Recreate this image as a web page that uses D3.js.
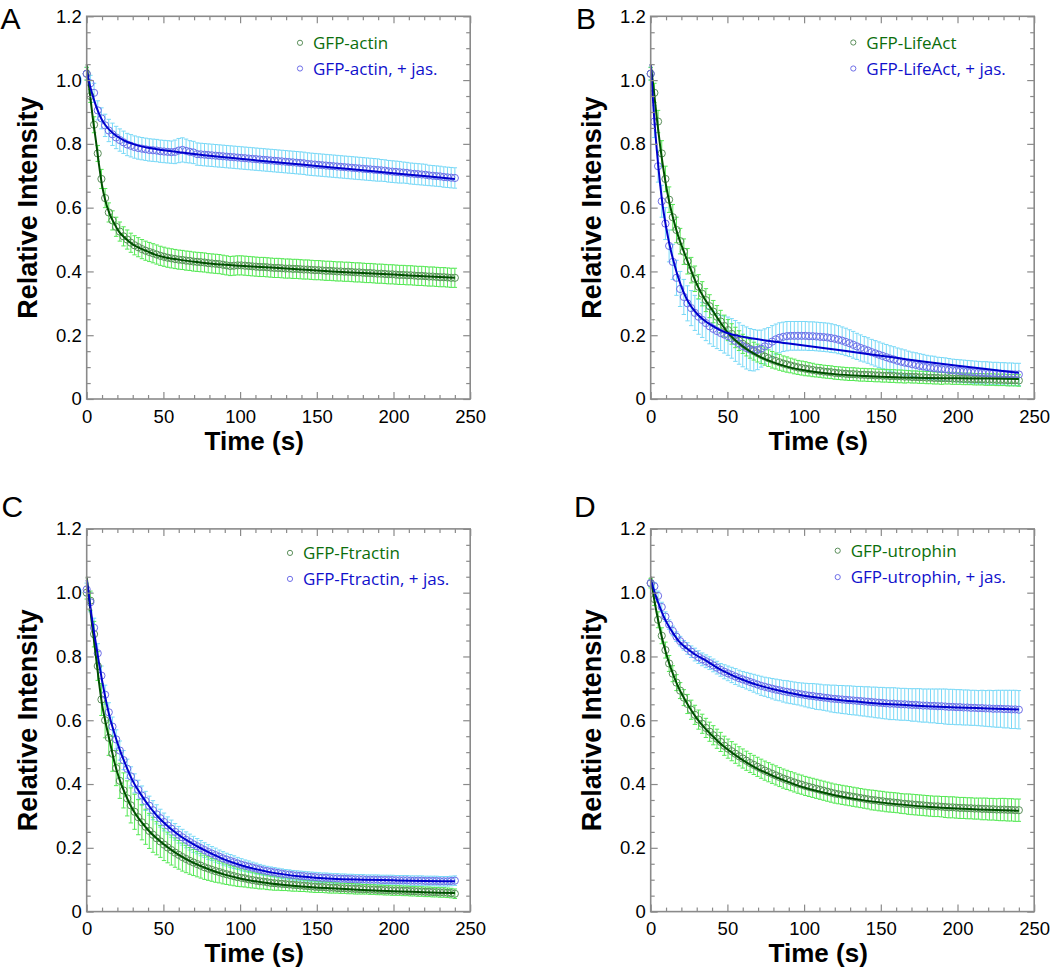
<!DOCTYPE html>
<html><head><meta charset="utf-8">
<script src="https://cdn.jsdelivr.net/npm/d3@7"></script>
<style>body{margin:0;background:#fff}svg{display:block}</style>
</head><body>
<svg id="c" width="1050" height="968"></svg>
<script>
// sample times (s) of the measured points
const times = d3.range(101).map(i => +(i * 2.4).toFixed(1));
// sample times of the fitted curves
const fitTimes = [0,2,4,6,8,10,12,15,18,21,25,30,35,40,45,50,60,70,80,90,100,120,140,160,180,200,220,240];
const xTickValues = [0,50,100,150,200,250];
const yTickValues = [0,0.2,0.4,0.6,0.8,1.0,1.2];
const yTickLabels = ["0","0.2","0.4","0.6","0.8","1.0","1.2"];

// ---- Panel A: GFP-actin
const actinCtrl = [1.02,0.95,0.86,0.77,0.69,0.63,0.585,0.56,0.54,0.525,
0.51,0.5,0.49,0.482,0.476,0.47,0.465,0.461,0.457,0.453,
0.449,0.446,0.443,0.441,0.439,0.437,0.436,0.434,0.433,0.431,
0.43,0.429,0.428,0.426,0.425,0.424,0.423,0.421,0.419,0.417,
0.418,0.419,0.419,0.418,0.417,0.416,0.415,0.414,0.414,0.413,
0.412,0.411,0.411,0.41,0.409,0.409,0.408,0.408,0.407,0.406,
0.406,0.405,0.404,0.404,0.403,0.402,0.402,0.401,0.4,0.4,
0.399,0.399,0.398,0.397,0.397,0.396,0.395,0.395,0.394,0.393,
0.393,0.392,0.391,0.391,0.39,0.389,0.389,0.388,0.388,0.387,
0.386,0.386,0.385,0.384,0.384,0.383,0.382,0.382,0.381,0.38,
0.38];
const actinCtrlErr = [0.02,0.02,0.025,0.025,0.03,0.03,0.03,0.03,0.03,0.03,
0.03,0.03,0.03,0.03,0.03,0.03,0.03,0.03,0.03,0.03,
0.03,0.03,0.03,0.03,0.03,0.03,0.03,0.03,0.03,0.03,
0.03,0.03,0.03,0.03,0.03,0.03,0.03,0.03,0.03,0.03,
0.03,0.03,0.03,0.03,0.03,0.03,0.03,0.03,0.03,0.03,
0.03,0.03,0.03,0.03,0.03,0.03,0.03,0.03,0.03,0.03,
0.03,0.03,0.03,0.03,0.03,0.03,0.03,0.03,0.03,0.03,
0.03,0.03,0.03,0.03,0.03,0.03,0.03,0.03,0.03,0.03,
0.03,0.03,0.03,0.03,0.03,0.03,0.03,0.03,0.03,0.03,
0.03,0.03,0.03,0.03,0.03,0.03,0.03,0.03,0.03,0.03,
0.03];
const actinJas = [1.02,0.99,0.96,0.905,0.88,0.858,0.842,0.83,0.82,0.812,
0.805,0.798,0.794,0.79,0.787,0.785,0.783,0.781,0.78,0.779,
0.777,0.776,0.775,0.774,0.775,0.779,0.781,0.778,0.775,0.773,
0.768,0.767,0.766,0.765,0.764,0.763,0.762,0.761,0.76,0.759,
0.758,0.757,0.756,0.755,0.754,0.753,0.752,0.751,0.75,0.749,
0.748,0.747,0.746,0.745,0.744,0.743,0.742,0.741,0.74,0.739,
0.737,0.736,0.735,0.734,0.733,0.732,0.731,0.73,0.729,0.728,
0.727,0.726,0.725,0.724,0.723,0.722,0.721,0.72,0.719,0.718,
0.717,0.716,0.714,0.713,0.712,0.711,0.71,0.709,0.707,0.706,
0.705,0.704,0.703,0.701,0.7,0.699,0.698,0.696,0.695,0.694,
0.693];
const actinJasErr = [0.02,0.025,0.03,0.03,0.033,0.035,0.035,0.035,0.035,0.035,
0.035,0.035,0.035,0.035,0.035,0.035,0.035,0.035,0.035,0.035,
0.035,0.035,0.035,0.035,0.037,0.038,0.038,0.037,0.035,0.035,
0.035,0.035,0.035,0.035,0.035,0.035,0.035,0.035,0.035,0.035,
0.035,0.035,0.035,0.035,0.035,0.035,0.035,0.035,0.035,0.035,
0.035,0.035,0.035,0.035,0.035,0.035,0.035,0.035,0.035,0.035,
0.035,0.035,0.035,0.035,0.035,0.035,0.035,0.035,0.035,0.035,
0.035,0.035,0.035,0.035,0.035,0.035,0.035,0.035,0.035,0.035,
0.034,0.034,0.034,0.034,0.034,0.034,0.033,0.033,0.033,0.033,
0.033,0.033,0.033,0.032,0.032,0.032,0.032,0.032,0.032,0.032,
0.032];
const actinCtrlFit = [1.05,0.96,0.88,0.81,0.735,0.67,0.625,0.58,0.55,0.525,0.505,0.485,0.472,0.462,0.452,0.445,0.437,0.43,0.425,0.421,0.418,0.412,0.406,0.4,0.395,0.39,0.385,0.38];
const actinJasFit = [1.03,0.985,0.95,0.92,0.895,0.875,0.86,0.843,0.83,0.82,0.809,0.8,0.793,0.788,0.784,0.78,0.774,0.768,0.763,0.758,0.753,0.744,0.735,0.726,0.717,0.708,0.699,0.69];

// ---- Panel B: GFP-LifeAct
const lifeCtrl = [1.02,0.96,0.87,0.77,0.69,0.625,0.57,0.53,0.495,0.462,
0.432,0.404,0.377,0.352,0.33,0.31,0.291,0.274,0.258,0.243,
0.229,0.216,0.204,0.193,0.183,0.173,0.165,0.157,0.15,0.144,
0.138,0.133,0.128,0.123,0.119,0.115,0.111,0.108,0.105,0.102,
0.099,0.097,0.095,0.093,0.091,0.089,0.088,0.086,0.085,0.084,
0.082,0.081,0.08,0.079,0.078,0.078,0.077,0.076,0.076,0.075,
0.075,0.074,0.074,0.073,0.073,0.072,0.072,0.071,0.071,0.07,
0.07,0.069,0.069,0.068,0.068,0.067,0.067,0.066,0.066,0.065,
0.065,0.065,0.064,0.064,0.064,0.063,0.063,0.063,0.062,0.062,
0.062,0.061,0.061,0.061,0.06,0.06,0.06,0.059,0.059,0.059,
0.058];
const lifeCtrlErr = [0.02,0.03,0.035,0.04,0.04,0.04,0.04,0.04,0.04,0.04,
0.04,0.04,0.04,0.038,0.038,0.036,0.036,0.035,0.035,0.035,
0.034,0.033,0.032,0.032,0.031,0.03,0.03,0.029,0.028,0.028,
0.027,0.027,0.026,0.026,0.025,0.025,0.024,0.024,0.023,0.023,
0.022,0.022,0.022,0.021,0.021,0.02,0.02,0.02,0.02,0.02,
0.02,0.02,0.02,0.02,0.02,0.02,0.02,0.02,0.02,0.02,
0.02,0.02,0.02,0.02,0.02,0.02,0.02,0.02,0.02,0.02,
0.019,0.019,0.019,0.019,0.019,0.019,0.019,0.019,0.019,0.019,
0.018,0.018,0.018,0.018,0.018,0.018,0.018,0.018,0.018,0.018,
0.018,0.018,0.018,0.018,0.018,0.018,0.018,0.018,0.018,0.018,
0.018];
const lifeJas = [1.02,0.87,0.73,0.62,0.55,0.48,0.43,0.38,0.345,0.32,
0.3,0.285,0.27,0.258,0.248,0.238,0.228,0.22,0.213,0.207,
0.202,0.197,0.19,0.182,0.174,0.166,0.16,0.155,0.153,0.154,
0.158,0.165,0.172,0.18,0.187,0.192,0.195,0.197,0.198,0.198,
0.198,0.198,0.198,0.197,0.197,0.196,0.195,0.194,0.193,0.191,
0.189,0.186,0.183,0.179,0.175,0.17,0.165,0.16,0.156,0.152,
0.147,0.143,0.139,0.135,0.131,0.127,0.124,0.12,0.117,0.114,
0.112,0.109,0.107,0.104,0.102,0.1,0.098,0.097,0.095,0.094,
0.093,0.091,0.09,0.089,0.088,0.087,0.086,0.085,0.084,0.083,
0.082,0.082,0.081,0.08,0.08,0.079,0.079,0.078,0.078,0.077,
0.077];
const lifeJasErr = [0.02,0.05,0.05,0.05,0.05,0.05,0.055,0.055,0.055,0.055,
0.055,0.055,0.055,0.055,0.055,0.055,0.055,0.055,0.055,0.055,
0.058,0.06,0.062,0.064,0.065,0.065,0.066,0.066,0.065,0.062,
0.058,0.055,0.052,0.05,0.048,0.047,0.046,0.046,0.045,0.045,
0.045,0.045,0.045,0.045,0.045,0.045,0.045,0.045,0.045,0.045,
0.044,0.044,0.043,0.043,0.042,0.042,0.041,0.041,0.04,0.04,
0.04,0.04,0.04,0.04,0.04,0.04,0.04,0.04,0.04,0.04,
0.038,0.038,0.038,0.038,0.038,0.037,0.037,0.037,0.036,0.036,
0.036,0.036,0.035,0.035,0.035,0.035,0.035,0.035,0.035,0.035,
0.035,0.035,0.035,0.035,0.035,0.035,0.035,0.035,0.035,0.035,
0.035];
const lifeCtrlFit = [1.05,0.97,0.88,0.8,0.73,0.67,0.62,0.56,0.51,0.47,0.42,0.36,0.315,0.28,0.243,0.21,0.165,0.135,0.115,0.1,0.09,0.078,0.072,0.068,0.066,0.065,0.064,0.063];
const lifeJasFit = [1.05,0.9,0.78,0.68,0.6,0.54,0.49,0.43,0.38,0.34,0.3,0.268,0.246,0.23,0.217,0.207,0.195,0.187,0.18,0.174,0.168,0.155,0.142,0.129,0.116,0.104,0.093,0.082];

// ---- Panel C: GFP-Ftractin
const ftCtrl = [1.0,0.975,0.87,0.77,0.665,0.6,0.545,0.495,0.45,0.41,
0.38,0.355,0.333,0.313,0.296,0.28,0.266,0.253,0.241,0.23,
0.22,0.21,0.201,0.193,0.185,0.178,0.171,0.165,0.159,0.154,
0.149,0.144,0.139,0.135,0.131,0.127,0.124,0.12,0.117,0.114,
0.111,0.108,0.106,0.104,0.101,0.099,0.097,0.095,0.094,0.092,
0.09,0.089,0.088,0.087,0.086,0.085,0.084,0.083,0.082,0.081,
0.08,0.079,0.078,0.077,0.077,0.076,0.075,0.075,0.074,0.073,
0.073,0.072,0.072,0.071,0.071,0.07,0.07,0.069,0.069,0.068,
0.068,0.067,0.067,0.066,0.066,0.066,0.065,0.065,0.064,0.064,
0.063,0.063,0.062,0.062,0.061,0.061,0.06,0.06,0.059,0.058,
0.056];
const ftCtrlErr = [0.02,0.03,0.04,0.045,0.05,0.055,0.055,0.055,0.055,0.055,
0.055,0.055,0.055,0.055,0.055,0.055,0.055,0.055,0.055,0.052,
0.05,0.05,0.048,0.047,0.046,0.045,0.044,0.043,0.042,0.041,
0.04,0.039,0.038,0.037,0.036,0.035,0.034,0.033,0.032,0.031,
0.03,0.029,0.028,0.027,0.026,0.025,0.024,0.024,0.023,0.023,
0.022,0.022,0.021,0.021,0.02,0.02,0.02,0.019,0.019,0.018,
0.018,0.018,0.018,0.017,0.017,0.017,0.017,0.017,0.016,0.016,
0.016,0.016,0.016,0.016,0.016,0.015,0.015,0.015,0.015,0.015,
0.015,0.015,0.015,0.015,0.015,0.015,0.015,0.015,0.015,0.015,
0.015,0.015,0.015,0.015,0.015,0.015,0.015,0.015,0.015,0.015,
0.015];
const ftJas = [1.01,0.97,0.89,0.81,0.74,0.68,0.625,0.58,0.54,0.505,
0.475,0.448,0.424,0.402,0.382,0.364,0.347,0.332,0.318,0.305,
0.293,0.281,0.27,0.26,0.25,0.241,0.233,0.225,0.218,0.211,
0.205,0.199,0.193,0.187,0.182,0.177,0.172,0.167,0.163,0.159,
0.155,0.151,0.147,0.144,0.141,0.138,0.135,0.132,0.129,0.127,
0.125,0.123,0.121,0.119,0.117,0.116,0.114,0.113,0.112,0.111,
0.11,0.109,0.108,0.107,0.106,0.106,0.105,0.104,0.104,0.103,
0.103,0.102,0.102,0.101,0.101,0.101,0.1,0.1,0.1,0.1,
0.099,0.099,0.099,0.099,0.098,0.098,0.098,0.098,0.097,0.097,
0.097,0.097,0.096,0.096,0.096,0.096,0.095,0.095,0.095,0.096,
0.097];
const ftJasErr = [0.02,0.03,0.03,0.03,0.03,0.03,0.03,0.03,0.03,0.03,
0.03,0.03,0.03,0.03,0.03,0.03,0.03,0.03,0.03,0.03,
0.028,0.028,0.027,0.027,0.026,0.026,0.025,0.025,0.025,0.025,
0.024,0.024,0.023,0.023,0.022,0.022,0.021,0.021,0.02,0.02,
0.02,0.019,0.019,0.018,0.018,0.017,0.017,0.016,0.016,0.015,
0.015,0.015,0.015,0.015,0.015,0.015,0.015,0.015,0.015,0.015,
0.015,0.015,0.015,0.015,0.015,0.015,0.015,0.015,0.015,0.015,
0.015,0.015,0.015,0.015,0.015,0.015,0.015,0.015,0.015,0.015,
0.015,0.015,0.015,0.015,0.015,0.015,0.015,0.015,0.015,0.015,
0.015,0.015,0.015,0.015,0.015,0.015,0.015,0.015,0.015,0.015,
0.015];
const ftCtrlFit = [1.05,0.96,0.88,0.8,0.72,0.65,0.6,0.535,0.47,0.42,0.37,0.32,0.285,0.256,0.232,0.212,0.178,0.152,0.132,0.116,0.104,0.088,0.079,0.073,0.068,0.064,0.061,0.058];
const ftJasFit = [1.04,0.97,0.9,0.84,0.78,0.725,0.675,0.61,0.56,0.515,0.465,0.41,0.37,0.335,0.305,0.28,0.24,0.21,0.185,0.163,0.146,0.123,0.11,0.103,0.1,0.098,0.096,0.095];

// ---- Panel D: GFP-utrophin
const utCtrl = [1.03,0.98,0.915,0.865,0.82,0.778,0.746,0.718,0.693,0.671,
0.651,0.633,0.617,0.602,0.589,0.576,0.564,0.553,0.542,0.532,
0.52,0.511,0.503,0.495,0.487,0.48,0.473,0.466,0.46,0.454,
0.448,0.442,0.437,0.432,0.427,0.422,0.417,0.413,0.409,0.405,
0.401,0.398,0.394,0.391,0.388,0.385,0.382,0.379,0.376,0.373,
0.37,0.368,0.366,0.364,0.362,0.36,0.358,0.356,0.354,0.352,
0.35,0.349,0.347,0.346,0.344,0.343,0.342,0.341,0.339,0.338,
0.337,0.336,0.335,0.334,0.333,0.332,0.331,0.33,0.33,0.329,
0.328,0.327,0.327,0.326,0.325,0.325,0.324,0.324,0.323,0.323,
0.322,0.322,0.321,0.321,0.32,0.32,0.32,0.319,0.319,0.318,
0.318];
const utCtrlErr = [0.015,0.02,0.025,0.025,0.025,0.025,0.025,0.025,0.025,0.025,
0.03,0.03,0.03,0.03,0.03,0.03,0.03,0.03,0.03,0.03,
0.03,0.03,0.03,0.03,0.03,0.03,0.03,0.03,0.03,0.03,
0.03,0.03,0.03,0.03,0.03,0.03,0.03,0.03,0.03,0.03,
0.03,0.03,0.03,0.03,0.03,0.03,0.03,0.03,0.03,0.03,
0.03,0.03,0.03,0.03,0.03,0.03,0.03,0.03,0.03,0.03,
0.031,0.031,0.031,0.031,0.031,0.031,0.031,0.031,0.031,0.031,
0.032,0.032,0.032,0.032,0.032,0.032,0.032,0.032,0.032,0.032,
0.033,0.033,0.033,0.033,0.033,0.033,0.033,0.033,0.033,0.033,
0.034,0.034,0.034,0.034,0.034,0.035,0.035,0.035,0.035,0.035,
0.035];
const utJas = [1.03,1.02,0.99,0.955,0.925,0.9,0.88,0.862,0.848,0.835,
0.825,0.815,0.806,0.798,0.791,0.785,0.779,0.772,0.765,0.758,
0.752,0.747,0.742,0.737,0.732,0.728,0.724,0.72,0.716,0.712,
0.708,0.705,0.702,0.699,0.696,0.694,0.691,0.689,0.687,0.685,
0.683,0.681,0.679,0.677,0.676,0.674,0.673,0.671,0.67,0.668,
0.667,0.666,0.665,0.664,0.663,0.662,0.661,0.66,0.659,0.658,
0.657,0.656,0.655,0.654,0.653,0.652,0.652,0.651,0.65,0.65,
0.649,0.648,0.648,0.647,0.646,0.646,0.645,0.645,0.644,0.644,
0.643,0.642,0.642,0.641,0.641,0.64,0.64,0.639,0.639,0.638,
0.638,0.637,0.637,0.636,0.636,0.636,0.635,0.635,0.634,0.634,
0.633];
const utJasErr = [0.01,0.012,0.015,0.015,0.015,0.015,0.015,0.015,0.015,0.015,
0.018,0.018,0.02,0.02,0.02,0.02,0.02,0.02,0.02,0.02,
0.022,0.023,0.024,0.025,0.025,0.025,0.026,0.027,0.028,0.029,
0.03,0.03,0.031,0.032,0.033,0.033,0.034,0.035,0.035,0.035,
0.035,0.036,0.037,0.038,0.039,0.04,0.04,0.04,0.041,0.042,
0.043,0.043,0.044,0.044,0.045,0.045,0.045,0.046,0.046,0.047,
0.047,0.048,0.048,0.049,0.049,0.05,0.05,0.05,0.05,0.05,
0.05,0.051,0.051,0.052,0.052,0.052,0.053,0.053,0.054,0.054,
0.055,0.055,0.055,0.055,0.055,0.055,0.055,0.055,0.055,0.055,
0.056,0.056,0.057,0.057,0.058,0.058,0.059,0.059,0.06,0.06,
0.06];
const utCtrlFit = [1.05,0.987,0.934,0.887,0.846,0.811,0.779,0.739,0.704,0.676,0.642,0.606,0.577,0.552,0.529,0.509,0.475,0.447,0.425,0.406,0.389,0.365,0.348,0.337,0.329,0.323,0.319,0.316];
const utJasFit = [1.04,1.01,0.98,0.955,0.93,0.91,0.893,0.87,0.85,0.835,0.82,0.803,0.79,0.775,0.76,0.748,0.727,0.71,0.697,0.686,0.677,0.665,0.656,0.649,0.644,0.64,0.637,0.634];

const panelLetters = ["A","B","C","D"];
const legendCtrl = ["GFP-actin","GFP-LifeAct","GFP-Ftractin","GFP-utrophin"];
const legendJas = ["GFP-actin, + jas.","GFP-LifeAct, + jas.","GFP-Ftractin, + jas.","GFP-utrophin, + jas."];

// ---- layout (positions & styles)
const W = 383.5, H = 382.7;
const layout = [
  {x0: 86.7, y0: 16.3, letter:[0.5,28.5], leg:[213.3, 26.5, 52.2]},
  {x0: 650.7, y0: 16.3, letter:[576,28.5], leg:[202.6, 26.2, 52.2]},
  {x0: 86.7, y0: 528.9, letter:[1.5,517], leg:[203.3, 24, 50]},
  {x0: 650.7, y0: 528.9, letter:[574,517], leg:[187, 21.8, 48.2]}
];
const series = [
  [actinCtrl, actinCtrlErr, actinCtrlFit, actinJas, actinJasErr, actinJasFit],
  [lifeCtrl, lifeCtrlErr, lifeCtrlFit, lifeJas, lifeJasErr, lifeJasFit],
  [ftCtrl, ftCtrlErr, ftCtrlFit, ftJas, ftJasErr, ftJasFit],
  [utCtrl, utCtrlErr, utCtrlFit, utJas, utJasErr, utJasFit]
];
const C = {
  frame:"#8a8a8a", greenErr:"#55e855", cyanErr:"#7ad9f7",
  greenPt:"#5b8f5b", bluePt:"#6e6ee8", greenFit:"#004f00", blueFit:"#0000cc",
  greenTxt:"#0b6e0b", blueTxt:"#1010cc"
};
const tickFont = "'Liberation Sans', Arial, sans-serif";
const legFont = "'Open Sans', 'Noto Sans', sans-serif";

const svg = d3.select("#c");
svg.append("rect").attr("width",1050).attr("height",968).attr("fill","#fff");

layout.forEach((L, p) => {
  const [ctrl, ctrlErr, ctrlFit, jas, jasErr, jasFit] = series[p];
  const x = d3.scaleLinear().domain([0,250]).range([L.x0, L.x0 + W]);
  const y = d3.scaleLinear().domain([0,1.2]).range([L.y0 + H, L.y0]);
  const g = svg.append("g");

  // error bars
  function errBars(vals, errs, color) {
    const eg = g.append("g").attr("stroke", color).attr("stroke-width", 1).attr("fill","none");
    times.forEach((t, i) => {
      const cx = x(t), lo = y(vals[i] - errs[i]), hi = y(vals[i] + errs[i]);
      eg.append("line").attr("x1",cx).attr("x2",cx).attr("y1",lo).attr("y2",hi);
      eg.append("line").attr("x1",cx-2.2).attr("x2",cx+2.2).attr("y1",lo).attr("y2",lo);
      eg.append("line").attr("x1",cx-2.2).attr("x2",cx+2.2).attr("y1",hi).attr("y2",hi);
    });
  }
  errBars(jas, jasErr, C.cyanErr);
  errBars(ctrl, ctrlErr, C.greenErr);

  // points
  function pts(vals, color) {
    g.append("g").selectAll("circle").data(times).join("circle")
      .attr("cx", d => x(d)).attr("cy", (d,i) => y(vals[i])).attr("r", 3.6)
      .attr("fill","none").attr("stroke", color).attr("stroke-width", 1);
  }
  pts(ctrl, C.greenPt);
  pts(jas, C.bluePt);

  // fits
  const line = vals => d3.line().curve(d3.curveMonotoneX)
    .x((d,i) => x(fitTimes[i])).y((d,i) => y(vals[i]))(vals);
  g.append("path").attr("d", line(ctrlFit)).attr("fill","none").attr("stroke",C.greenFit).attr("stroke-width",2);
  g.append("path").attr("d", line(jasFit)).attr("fill","none").attr("stroke",C.blueFit).attr("stroke-width",2);

  // axes (inward ticks on all four sides)
  const minorX = d3.range(0, 251, 10).filter(v => v % 50 !== 0);
  const minorY = d3.range(0, 25).map(k => +(k*0.05).toFixed(2)).filter(v => Math.abs(v*5 - Math.round(v*5)) > 1e-6);
  const styleAxis = sel => {
    sel.select(".domain").remove();
    sel.selectAll("line").attr("stroke", C.frame).attr("stroke-width", 1.2);
    sel.selectAll("text").attr("font-family", tickFont).attr("font-size", 18.5).attr("fill","#000");
  };
  const yb = L.y0 + H, xr = L.x0 + W;
  g.append("g").attr("transform",`translate(0,${yb})`)
    .call(d3.axisBottom(x).tickValues(xTickValues).tickSize(-7).tickPadding(10.5).tickFormat(d3.format("d"))).call(styleAxis);
  g.append("g").attr("transform",`translate(0,${yb})`)
    .call(d3.axisBottom(x).tickValues(minorX).tickSize(-4).tickFormat("")).call(styleAxis);
  g.append("g").attr("transform",`translate(0,${L.y0})`)
    .call(d3.axisTop(x).tickValues(xTickValues).tickSize(-7).tickFormat("")).call(styleAxis);
  g.append("g").attr("transform",`translate(0,${L.y0})`)
    .call(d3.axisTop(x).tickValues(minorX).tickSize(-4).tickFormat("")).call(styleAxis);
  g.append("g").attr("transform",`translate(${L.x0},0)`)
    .call(d3.axisLeft(y).tickValues(yTickValues).tickSize(-7).tickPadding(5).tickFormat((d,i) => yTickLabels[i])).call(styleAxis);
  g.append("g").attr("transform",`translate(${L.x0},0)`)
    .call(d3.axisLeft(y).tickValues(minorY).tickSize(-4).tickFormat("")).call(styleAxis);
  g.append("g").attr("transform",`translate(${xr},0)`)
    .call(d3.axisRight(y).tickValues(yTickValues).tickSize(-7).tickFormat("")).call(styleAxis);
  g.append("g").attr("transform",`translate(${xr},0)`)
    .call(d3.axisRight(y).tickValues(minorY).tickSize(-4).tickFormat("")).call(styleAxis);

  g.append("rect").attr("x", L.x0).attr("y", L.y0).attr("width", W).attr("height", H)
    .attr("fill","none").attr("stroke", C.frame).attr("stroke-width", 1.6);

  // axis titles
  g.append("text").attr("x", L.x0 + 167.5).attr("y", yb + 50.8).attr("text-anchor","middle")
    .attr("font-family", tickFont).attr("font-weight","bold").attr("font-size", 26).text("Time (s)");
  g.append("text").attr("transform", `translate(${L.x0 - 50},${L.y0 + H/2}) rotate(-90)`).attr("text-anchor","middle")
    .attr("font-family", tickFont).attr("font-weight","bold").attr("font-size", 27).text("Relative Intensity");

  // panel letter
  svg.append("text").attr("x", L.letter[0]).attr("y", L.letter[1]).attr("font-family", tickFont)
    .attr("font-size", 30).attr("fill","#000").text(panelLetters[p]);

  // legend
  const lx = L.x0 + L.leg[0];
  [[L.leg[1], C.greenPt, C.greenTxt, legendCtrl[p]], [L.leg[2], C.bluePt, C.blueTxt, legendJas[p]]].forEach(([dy, pc, tc, label]) => {
    g.append("circle").attr("cx", lx).attr("cy", L.y0 + dy).attr("r", 2.6).attr("fill","none").attr("stroke", pc).attr("stroke-width", 1);
    g.append("text").attr("x", lx + 13).attr("y", L.y0 + dy + 6.3).attr("font-family", legFont).attr("font-size", 17)
      .attr("fill", tc).text(label);
  });
});
</script>
</body></html>
